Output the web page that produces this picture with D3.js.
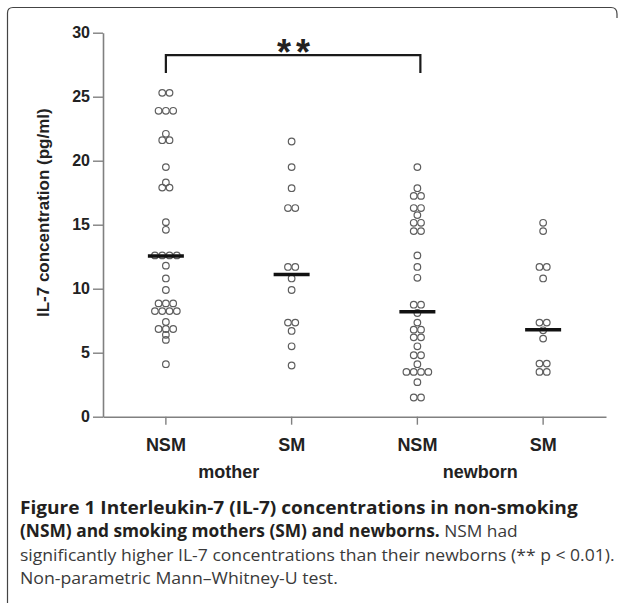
<!DOCTYPE html>
<html>
<head>
<meta charset="utf-8">
<script src="https://cdn.jsdelivr.net/npm/d3@7/dist/d3.min.js"></script>
<style>
    body { margin: 0; background: #fff; }
    svg { display: block; }
</style>
</head>
<body>
<div id="chart"></div>
<script>
// values (pg/ml)
var groups = ['mother_nsm', 'mother_sm', 'newborn_nsm', 'newborn_sm'];
var tick_labels = ['NSM', 'SM', 'NSM', 'SM'];
var subject_labels = ['mother', 'newborn'];
var y_ticks = [0, 5, 10, 15, 20, 25, 30];

var mother_nsm = [25.3, 25.3, 23.9, 23.9, 23.9, 22.1, 21.6, 21.6, 19.5, 18.3, 17.9, 17.9,
    15.2, 14.6, 12.6, 12.6, 12.6, 12.6, 11.8, 10.8, 9.9, 8.85, 8.85, 8.85,
    8.25, 8.25, 8.25, 8.25, 7.4, 6.85, 6.85, 6.85, 6.4, 6.0, 4.1];
var mother_sm = [21.5, 19.5, 17.85, 16.3, 16.3, 11.7, 11.7, 10.8, 9.9, 7.35, 7.35, 6.7, 5.5, 4.0];
var newborn_nsm = [19.5, 17.85, 17.25, 17.25, 16.3, 16.3, 15.75, 15.15, 15.15, 14.5, 14.5,
    12.6, 11.7, 10.85, 8.75, 8.75, 8.1, 7.35, 6.8, 6.8, 6.2, 6.2, 5.5, 4.8, 4.8, 4.1,
    3.5, 3.5, 3.5, 3.5, 2.7, 1.5, 1.5];
var newborn_sm = [15.15, 14.5, 11.7, 11.7, 10.8, 7.35, 7.35, 6.75, 6.1, 4.15, 4.15, 3.5, 3.5];
var medians = [12.55, 11.1, 8.2, 6.8];

var caption_lines = [
    [{ t: 'Figure 1 Interleukin-7 (IL-7) concentrations in non-smoking', b: true }],
    [{ t: '(NSM) and smoking mothers (SM) and newborns.', b: true }, { t: ' NSM had', b: false }],
    [{ t: 'significantly higher IL-7 concentrations than their newborns (** p < 0.01).', b: false }],
    [{ t: 'Non-parametric Mann\u2013Whitney-U test.', b: false }]
];
var caption_widths = [558, 498, 595, 318];

var series = [mother_nsm, mother_sm, newborn_nsm, newborn_sm];

var width = 625, height = 603;
var axis_font = '"Liberation Sans", Arial, Helvetica, sans-serif';
var caption_font = '"Open Sans", "Noto Sans", sans-serif';

let svg = d3.select('#chart').append('svg')
    .attr('width', width)
    .attr('height', height);

// frame round the figure
svg.append('path')
    .attr('d', 'M 7.5 603 L 7.5 13 Q 7.5 7.5 13 7.5 L 611 7.5 Q 617 7.5 617 14 L 617 18')
    .attr('fill', 'none')
    .attr('stroke', '#444')
    .attr('stroke-width', 1.2);

let x = d3.scaleBand().domain(groups).range([103, 606]);
let y = d3.scaleLinear().domain([0, 30]).range([416.7, 32.7]);

// y axis
let y_axis = svg.append('g')
    .attr('transform', 'translate(' + x.range()[0] + ',0)')
    .call(d3.axisLeft(y).tickValues(y_ticks).tickSize(10).tickPadding(3).tickSizeOuter(0));
y_axis.select('.domain').attr('stroke', '#808080').attr('stroke-width', 1.6);
y_axis.selectAll('.tick line').attr('stroke', '#808080').attr('stroke-width', 1.4);
y_axis.selectAll('.tick text')
    .attr('font-family', axis_font)
    .attr('font-weight', 'bold')
    .attr('font-size', 16)
    .attr('fill', '#222');

// x axis
let x_axis = svg.append('g')
    .attr('transform', 'translate(0,' + y(0) + ')')
    .call(d3.axisBottom(x).tickSize(8).tickSizeOuter(0).tickFormat(function(d, i) { return tick_labels[i]; }));
x_axis.select('.domain').attr('stroke', '#808080').attr('stroke-width', 1.6);
x_axis.selectAll('.tick line').attr('stroke', '#808080').attr('stroke-width', 1.4);
x_axis.selectAll('.tick text')
    .attr('y', 34)
    .attr('dy', 0)
    .attr('font-family', axis_font)
    .attr('font-weight', 'bold')
    .attr('font-size', 18)
    .attr('fill', '#222');

// mother / newborn
subject_labels.forEach(function(label, i) {
    let cx = (x(groups[i * 2]) + x(groups[i * 2 + 1]) + x.bandwidth()) / 2;
    svg.append('text')
        .attr('x', cx)
        .attr('y', y(0) + 61)
        .attr('text-anchor', 'middle')
        .attr('font-family', axis_font)
        .attr('font-weight', 'bold')
        .attr('font-size', 18)
        .attr('fill', '#222')
        .text(label);
});

// y axis title
svg.append('text')
    .attr('transform', 'translate(49,' + ((y(0) + y(30)) / 2 - 12) + ') rotate(-90)')
    .attr('text-anchor', 'middle')
    .attr('font-family', axis_font)
    .attr('font-weight', 'bold')
    .attr('font-size', 17)
    .attr('fill', '#222')
    .text('IL-7 concentration (pg/ml)');

// dots: equal values side by side, centred on the column
let spacing = 7.3;
series.forEach(function(values, gi) {
    let cx = x(groups[gi]) + x.bandwidth() / 2;
    let rows = d3.groups(values, function(d) { return d; });
    let points = [];
    rows.forEach(function(row) {
        let n = row[1].length;
        row[1].forEach(function(v, i) {
            points.push({ v: v, dx: (i - (n - 1) / 2) * spacing });
        });
    });

    svg.append('g').selectAll('circle')
        .data(points)
        .enter().append('circle')
        .attr('cx', function(d) { return cx + d.dx; })
        .attr('cy', function(d) { return y(d.v); })
        .attr('r', 3.3)
        .attr('fill', 'none')
        .attr('stroke', '#5e5e5e')
        .attr('stroke-width', 1.2);

    // median bar
    svg.append('line')
        .attr('x1', cx - 18)
        .attr('x2', cx + 18)
        .attr('y1', y(medians[gi]))
        .attr('y2', y(medians[gi]))
        .attr('stroke', '#111')
        .attr('stroke-width', 3.5);
});

// significance bracket NSM mother vs NSM newborn
let bx1 = x(groups[0]) + x.bandwidth() / 2;
let bx2 = x(groups[2]) + x.bandwidth() / 2 + 3;
let by = y(28.25);
svg.append('path')
    .attr('d', 'M ' + bx1 + ' ' + (by + 18) + ' L ' + bx1 + ' ' + by + ' L ' + bx2 + ' ' + by + ' L ' + bx2 + ' ' + (by + 18))
    .attr('fill', 'none')
    .attr('stroke', '#1a1a1a')
    .attr('stroke-width', 2.2);
svg.append('text')
    .attr('x', (bx1 + bx2) / 2 + 3)
    .attr('y', by + 10)
    .attr('text-anchor', 'middle')
    .attr('font-family', axis_font)
    .attr('font-weight', 'bold')
    .attr('font-size', 36)
    .attr('letter-spacing', 5)
    .attr('fill', '#222')
    .text('**');

// caption
caption_lines.forEach(function(parts, li) {
    let g = svg.append('g');
    let t = g.append('text')
        .attr('x', 0)
        .attr('y', 0)
        .attr('font-family', caption_font)
        .attr('font-size', 17);
    parts.forEach(function(p) {
        t.append('tspan')
            .attr('font-weight', p.b ? 'bold' : 'normal')
            .attr('fill', p.b ? '#231f20' : '#3a3a3a')
            .text(p.t);
    });
    let len = t.node().getComputedTextLength();
    let sx = caption_widths[li] / len;
    g.attr('transform', 'translate(20,' + (514 + li * 23.3) + ') scale(' + sx + ',1)');
});
</script>
</body>
</html>
